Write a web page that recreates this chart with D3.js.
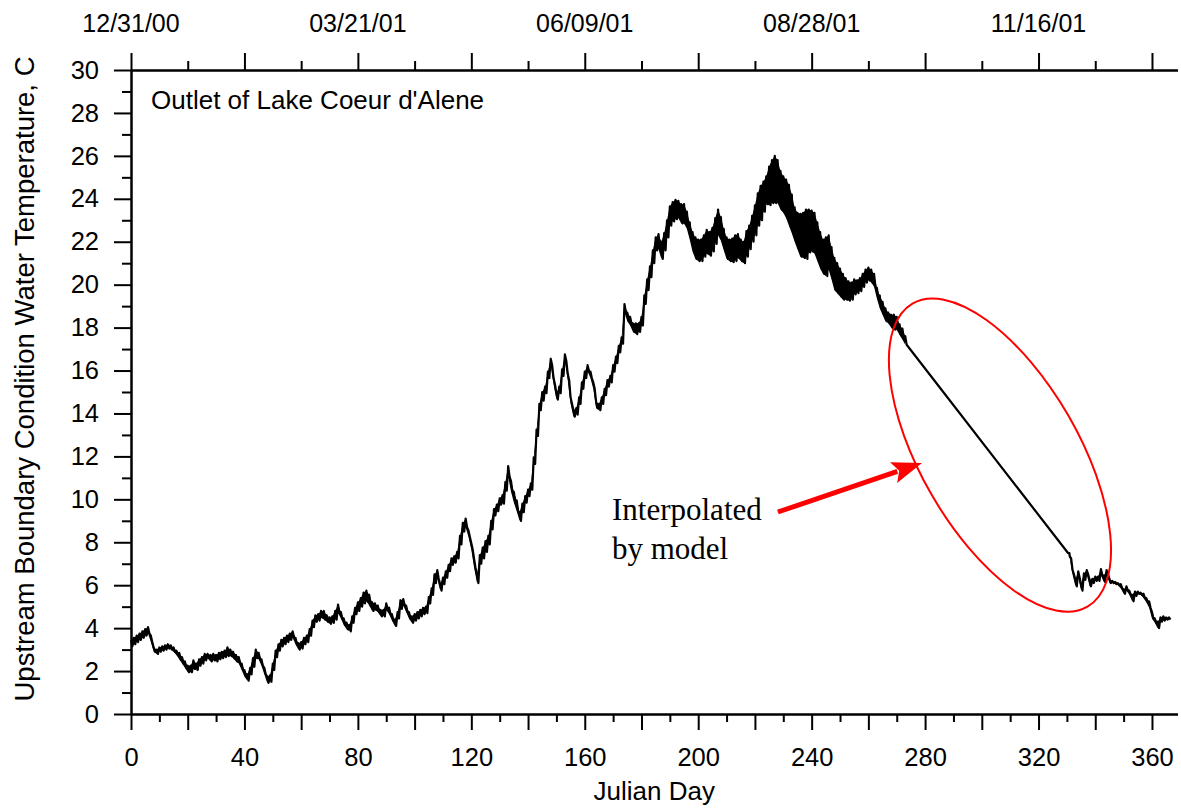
<!DOCTYPE html>
<html>
<head>
<meta charset="utf-8">
<script src="https://cdn.jsdelivr.net/npm/d3@7"></script>
<style>
    body { margin: 0; background: #fff; }
    text { font-family: "Liberation Sans", Arial, sans-serif; fill: #000; }
</style>
</head>
<body>
<script>
// Moyenne journalière et amplitude journalière (jours 0 à 273)
const earlyMean = [
    3.3, 3.4, 3.5, 3.6, 3.7, 3.8, 3.9, 3.5, 3.0, 2.9,
    3.0, 3.05, 3.1, 3.15, 3.1, 3.0, 2.85, 2.7, 2.5, 2.3,
    2.1, 2.1, 2.3, 2.2, 2.4, 2.5, 2.65, 2.7, 2.6, 2.65,
    2.6, 2.7, 2.75, 2.8, 2.9, 2.85, 2.75, 2.6, 2.5, 2.2,
    1.9, 1.7, 2.0, 2.4, 2.8, 2.7, 2.4, 2.0, 1.6, 1.65,
    2.2, 2.8, 3.1, 3.3, 3.4, 3.5, 3.6, 3.7, 3.4, 3.15,
    3.2, 3.4, 3.5, 3.8, 4.2, 4.45, 4.5, 4.65, 4.6, 4.45,
    4.35, 4.4, 4.6, 4.9, 4.6, 4.3, 4.1, 4.0, 4.4, 4.8,
    5.0, 5.2, 5.4, 5.5, 5.3, 5.0, 5.0, 4.9, 4.7, 4.7,
    5.0, 4.8, 4.5, 4.25, 4.6, 5.1, 5.2, 4.9, 4.6, 4.4,
    4.5, 4.6, 4.7, 4.8, 4.85, 5.3, 5.7, 6.3, 6.5, 5.9,
    6.2, 6.5, 6.8, 7.1, 7.2, 7.4, 8.1, 8.7, 8.9, 8.4,
    7.8, 7.0, 6.3, 7.2, 7.5, 7.8, 8.1, 8.8, 9.4, 9.6,
    9.9, 10.0, 10.6, 11.3, 10.6, 10.1, 9.7, 9.2, 9.6, 10.0,
    10.3, 10.6, 11.8, 13.1, 14.3, 14.8, 15.1, 15.8, 16.4, 15.5,
    14.8, 15.1, 15.9, 16.6, 15.7, 14.6, 14.0, 14.1, 14.6, 15.3,
    15.8, 16.1, 15.8, 15.3, 14.4, 14.3, 14.6, 15.0, 15.4, 15.6,
    16.1, 16.5, 17.0, 17.4, 18.9, 18.5, 18.3, 18.0, 17.95, 18.0,
    18.3, 19.3, 20.0, 20.6, 21.3, 21.9, 22.0, 21.6, 22.0, 22.6,
    23.2, 23.4, 23.5, 23.5, 23.3, 23.3, 23.0, 22.5, 22.0, 21.7,
    21.6, 21.6, 21.8, 22.0, 21.9, 22.1, 22.5, 22.9, 22.6, 22.1,
    21.7, 21.6, 21.6, 21.7, 21.8, 21.6, 21.5, 21.9, 22.2, 22.6,
    23.0, 23.5, 23.8, 24.1, 24.4, 24.6, 24.8, 24.9, 24.8, 24.4,
    24.2, 24.0, 23.7, 23.3, 22.8, 22.5, 22.3, 22.3, 22.35, 22.5,
    22.5, 22.4, 22.0, 21.6, 21.3, 21.3, 21.5, 21.0, 20.5, 20.3,
    20.1, 19.9, 19.8, 19.7, 19.7, 19.9, 19.9, 20.0, 20.2, 20.4,
    20.5, 20.4, 20.2, 19.6, 19.2, 18.9, 18.6, 18.45, 18.3, 18.25,
    18.2, 17.9, 17.7, 17.4
];
const earlyRange = [
    0.3, 0.3, 0.3, 0.3, 0.3, 0.3, 0.3, 0.3, 0.2, 0.2,
    0.2, 0.2, 0.2, 0.2, 0.2, 0.2, 0.2, 0.3, 0.3, 0.3,
    0.3, 0.3, 0.4, 0.3, 0.3, 0.3, 0.3, 0.2, 0.3, 0.3,
    0.3, 0.3, 0.3, 0.3, 0.4, 0.3, 0.3, 0.3, 0.3, 0.3,
    0.3, 0.3, 0.3, 0.4, 0.4, 0.3, 0.3, 0.3, 0.3, 0.3,
    0.3, 0.3, 0.3, 0.3, 0.3, 0.3, 0.3, 0.3, 0.3, 0.3,
    0.3, 0.3, 0.3, 0.3, 0.3, 0.3, 0.3, 0.3, 0.4, 0.3,
    0.3, 0.3, 0.4, 0.4, 0.3, 0.3, 0.3, 0.3, 0.3, 0.3,
    0.4, 0.4, 0.5, 0.5, 0.5, 0.4, 0.3, 0.3, 0.3, 0.3,
    0.3, 0.3, 0.3, 0.3, 0.3, 0.4, 0.3, 0.3, 0.3, 0.3,
    0.3, 0.3, 0.3, 0.3, 0.3, 0.3, 0.3, 0.4, 0.4, 0.3,
    0.3, 0.3, 0.3, 0.3, 0.3, 0.3, 0.4, 0.4, 0.4, 0.3,
    0.3, 0.4, 0.4, 0.4, 0.5, 0.5, 0.4, 0.4, 0.3, 0.3,
    0.3, 0.4, 0.4, 0.5, 0.5, 0.5, 0.5, 0.4, 0.4, 0.3,
    0.3, 0.3, 0.3, 0.3, 0.3, 0.4, 0.3, 0.3, 0.3, 0.3,
    0.3, 0.3, 0.3, 0.3, 0.3, 0.3, 0.3, 0.3, 0.3, 0.3,
    0.3, 0.3, 0.3, 0.3, 0.3, 0.3, 0.3, 0.3, 0.3, 0.3,
    0.3, 0.3, 0.3, 0.3, 0.4, 0.4, 0.4, 0.4, 0.5, 0.4,
    0.4, 0.4, 0.5, 0.5, 0.6, 0.6, 0.7, 0.8, 0.8, 0.8,
    0.9, 0.9, 0.9, 0.8, 0.9, 0.9, 0.8, 0.8, 0.9, 1.0,
    1.0, 1.0, 1.0, 1.1, 1.1, 1.1, 1.2, 1.2, 1.1, 1.0,
    1.0, 1.0, 1.1, 1.2, 1.1, 1.0, 1.0, 1.2, 1.1, 1.2,
    1.4, 1.5, 1.6, 1.4, 1.3, 1.8, 2.0, 2.2, 2.0, 1.8,
    1.7, 1.8, 1.9, 1.8, 1.6, 1.7, 2.0, 2.1, 2.3, 2.0,
    1.9, 1.9, 1.8, 1.7, 1.6, 1.8, 1.6, 1.5, 1.5, 1.4,
    1.3, 1.2, 1.0, 0.9, 0.8, 0.7, 0.6, 0.6, 0.6, 0.6,
    0.6, 0.6, 0.6, 0.5, 0.6, 0.6, 0.6, 0.5, 0.6, 0.7,
    0.6, 0.5, 0.5, 0.4
];

// Fin de série après le trou (jour 330.4 : reprise des mesures)
const lateDays = [330.4,
    331, 332, 333, 334, 335, 336, 337, 338, 339, 340,
    341, 342, 343, 344, 345, 346, 347, 348, 349, 350,
    351, 352, 353, 354, 355, 356, 357, 358, 359, 360,
    361, 362, 363, 364, 365, 366];
const lateMean = [7.5,
    7.3, 6.6, 6.1, 6.5, 5.9, 6.4, 6.6, 6.1, 6.2, 6.3,
    6.3, 6.6, 6.3, 6.6, 6.2, 6.15, 6.1, 6.05, 5.95, 5.7,
    5.85, 5.65, 5.4, 5.6, 5.65, 5.6, 5.5, 5.3, 5.1, 4.6,
    4.35, 4.15, 4.4, 4.45, 4.45, 4.45];
const lateRange = [0,
    0.1, 0.2, 0.3, 0.3, 0.3, 0.3, 0.2, 0.3, 0.2, 0.2,
    0.2, 0.3, 0.3, 0.2, 0.2, 0.1, 0.1, 0.1, 0.2, 0.2,
    0.2, 0.2, 0.3, 0.2, 0.1, 0.1, 0.2, 0.2, 0.3, 0.3,
    0.2, 0.3, 0.2, 0.2, 0.1, 0.1];

// Axe du haut : dates
const dateDays = [0, 80, 160, 240, 320];
const dateLabels = ["12/31/00", "03/21/01", "06/09/01", "08/28/01", "11/16/01"];

// Annotation (coordonnées en jour / température)
const ellipseCenter = [306.4, 12.06];
const arrowTail = [228.1, 9.41];
const arrowTip = [278.9, 11.69];
const noteAt = [169.6, 9.05];

const width = 1181;
const height = 810;

const svg = d3.select("body").append("svg")
    .attr("width", width)
    .attr("height", height)
    .style("background", "#fff");

const x = d3.scaleLinear().domain([0, 369]).range([131, 1177.5]);
const y = d3.scaleLinear().domain([0, 30]).range([714, 70]);

// bandes journalières (min / max) pour chaque partie mesurée
const earlyBand = earlyMean.map((m, i) => ({ d: i, hi: m + earlyRange[i] / 2, lo: m - earlyRange[i] / 2 }));
const lateBand = lateDays.map((d, i) => ({ d: d, hi: lateMean[i] + lateRange[i] / 2, lo: lateMean[i] - lateRange[i] / 2 }));

const area = d3.area()
    .x(b => x(b.d))
    .y0(b => y(b.lo))
    .y1(b => y(b.hi));

svg.selectAll(".band")
    .data([earlyBand, lateBand])
    .join("path")
    .attr("class", "band")
    .attr("d", area)
    .attr("fill", "#000");

// trace : max puis min de chaque jour (le trou est relié par une droite)
const points = [];
earlyBand.concat(lateBand).forEach(b => {
    points.push([b.d, b.hi]);
    points.push([b.d + 0.5, b.lo]);
});

const line = d3.line().x(p => x(p[0])).y(p => y(p[1]));

svg.append("path")
    .datum(points)
    .attr("d", line)
    .attr("fill", "none")
    .attr("stroke", "#000")
    .attr("stroke-width", 2.2)
    .attr("stroke-linejoin", "round");

// Axes
function styleAxis(g) {
    g.attr("font-size", null).attr("font-family", null);
    g.selectAll("path, line").attr("stroke", "#000").attr("stroke-width", 2);
    g.selectAll("text").style("font-size", "25.5px");
}

// gauche
svg.append("g").attr("transform", `translate(${x(0)},0)`)
    .call(d3.axisLeft(y).tickValues(d3.range(1, 30, 2)).tickSize(9).tickSizeOuter(0).tickFormat(""))
    .call(styleAxis);
svg.append("g").attr("transform", `translate(${x(0)},0)`)
    .call(d3.axisLeft(y).tickValues(d3.range(0, 31, 2)).tickSize(17).tickSizeOuter(0).tickPadding(15))
    .call(styleAxis);

// bas
svg.append("g").attr("transform", `translate(0,${y(0)})`)
    .call(d3.axisBottom(x).tickValues(d3.range(10, 370, 20)).tickSize(8).tickSizeOuter(0).tickFormat(""))
    .call(styleAxis);
svg.append("g").attr("transform", `translate(0,${y(0)})`)
    .call(d3.axisBottom(x).tickValues(d3.range(0, 361, 20)).tickSize(16).tickSizeOuter(0).tickFormat(""))
    .call(styleAxis);
svg.append("g").attr("transform", `translate(0,${y(0)})`)
    .call(d3.axisBottom(x).tickValues(d3.range(0, 361, 40)).tickSize(0).tickSizeOuter(0).tickPadding(34))
    .call(styleAxis)
    .call(g => g.select(".domain").remove());

// haut
svg.append("g").attr("transform", `translate(0,${y(30)})`)
    .call(d3.axisTop(x).tickValues(d3.range(20, 370, 40)).tickSize(9).tickSizeOuter(0).tickFormat(""))
    .call(styleAxis);
svg.append("g").attr("transform", `translate(0,${y(30)})`)
    .call(d3.axisTop(x).tickValues(d3.range(0, 361, 40)).tickSize(17).tickSizeOuter(0).tickFormat(""))
    .call(styleAxis);

svg.append("g").selectAll("text")
    .data(dateDays)
    .join("text")
    .attr("x", d => x(d))
    .attr("y", 32)
    .attr("text-anchor", "middle")
    .style("font-size", "25px")
    .text((d, i) => dateLabels[i]);

// Titres
svg.append("text")
    .attr("x", (x.range()[0] + x.range()[1]) / 2)
    .attr("y", 800)
    .attr("text-anchor", "middle")
    .style("font-size", "26px")
    .text("Julian Day");

svg.append("text")
    .attr("transform", `translate(34,${(y(0) + y(30)) / 2 - 13}) rotate(-90)`)
    .attr("text-anchor", "middle")
    .style("font-size", "27.5px")
    .text("Upstream Boundary Condition Water Temperature, C");

svg.append("text")
    .attr("x", 151)
    .attr("y", 109)
    .style("font-size", "26px")
    .text("Outlet of Lake Coeur d'Alene");

// Annotation : ellipse rouge + flèche + texte
const [ecx, ecy] = [x(ellipseCenter[0]), y(ellipseCenter[1])];
svg.append("ellipse")
    .attr("cx", 0).attr("cy", 0)
    .attr("rx", 175).attr("ry", 79)
    .attr("transform", `translate(${ecx},${ecy}) rotate(60)`)
    .attr("fill", "none")
    .attr("stroke", "#ff0000")
    .attr("stroke-width", 2);

const tx = x(arrowTail[0]), ty = y(arrowTail[1]);
const hx = x(arrowTip[0]), hy = y(arrowTip[1]);
const ang = Math.atan2(hy - ty, hx - tx);
const headLen = 30, headHalf = 11;
const bx = hx - headLen * Math.cos(ang), by = hy - headLen * Math.sin(ang);

svg.append("line")
    .attr("x1", tx).attr("y1", ty)
    .attr("x2", bx + 4 * Math.cos(ang)).attr("y2", by + 4 * Math.sin(ang))
    .attr("stroke", "#ff0000")
    .attr("stroke-width", 5);

svg.append("polygon")
    .attr("points", [
        [hx, hy],
        [bx - headHalf * Math.sin(ang), by + headHalf * Math.cos(ang)],
        [bx + 6 * Math.cos(ang), by + 6 * Math.sin(ang)],
        [bx + headHalf * Math.sin(ang), by - headHalf * Math.cos(ang)]
    ].map(p => p.join(",")).join(" "))
    .attr("fill", "#ff0000");

const note = svg.append("text")
    .attr("x", x(noteAt[0]))
    .attr("y", y(noteAt[1]))
    .style("font-family", "'Liberation Serif', 'Times New Roman', serif")
    .style("font-size", "31px");
note.append("tspan").attr("x", x(noteAt[0])).text("Interpolated");
note.append("tspan").attr("x", x(noteAt[0])).attr("dy", 39).text("by model");
</script>
</body>
</html>
